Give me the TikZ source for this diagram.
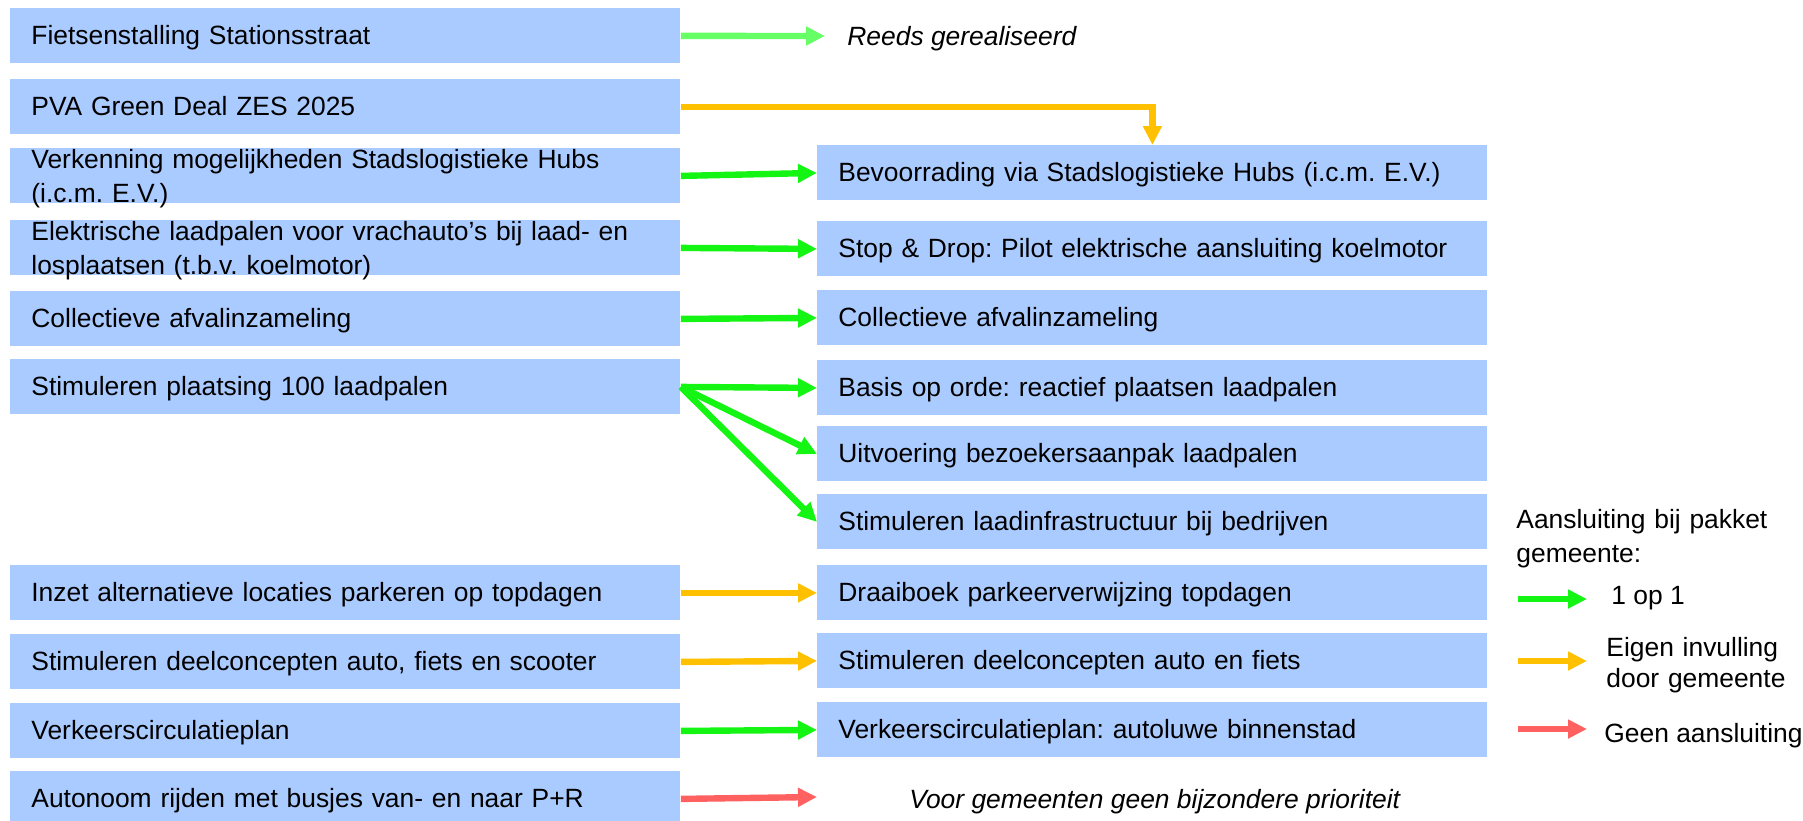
\documentclass[tikz,border=0pt]{standalone}
\usepackage{fontspec}
\setmainfont{Liberation Sans}
\usetikzlibrary{arrows.meta}
\frenchspacing

\definecolor{boxblue}{RGB}{170,203,255}
\definecolor{onegreen}{RGB}{20,245,20}
\definecolor{donegreen}{RGB}{102,255,102}
\definecolor{owngold}{RGB}{255,192,0}
\definecolor{nored}{RGB}{255,96,96}

\begin{document}
\begin{tikzpicture}[x=0.5pt, y=-0.5pt,
  every node/.style={font=\fontsize{13.2}{17}\selectfont},
  box/.style={fill=boxblue, anchor=north west, minimum width=335pt, minimum height=27.5pt,
    inner xsep=10.5pt, inner ysep=0pt, text width=314pt, align=left, text height=18pt, text depth=9.5pt},
  twoline/.style={text height=10pt, text depth=17.5pt},
  link/.style={line width=3.2pt, -{Triangle[length=9.5pt,width=9pt]}},
  note/.style={anchor=base west, inner sep=0pt, font=\fontsize{13.2}{17}\selectfont\itshape},
  legtext/.style={anchor=base west, inner sep=0pt, align=left}]
  \useasboundingbox (0,0) rectangle (1803,820);

  \node[box] (fiets) at (10,8) {Fietsenstalling Stationsstraat};
  \node[box] (pva) at (10,79) {PVA Green Deal ZES 2025};
  \node[box, twoline] (verk) at (10,148) {Verkenning mogelijkheden Stadslogistieke Hubs\\(i.c.m. E.V.)};
  \node[box, twoline] (elek) at (10,220) {Elektrische laadpalen voor vrachauto’s bij laad- en\\losplaatsen (t.b.v. koelmotor)};
  \node[box] (afval) at (10,291) {Collectieve afvalinzameling};
  \node[box] (stim) at (10,359) {Stimuleren plaatsing 100 laadpalen};
  \node[box] (inzet) at (10,565) {Inzet alternatieve locaties parkeren op topdagen};
  \node[box] (deel) at (10,634) {Stimuleren deelconcepten auto, fiets en scooter};
  \node[box] (vcp) at (10,703) {Verkeerscirculatieplan};
  \node[box] (auto) at (10,771) {Autonoom rijden met busjes van- en naar P+R};

  \node[box] (bev) at (817,145) {Bevoorrading via Stadslogistieke Hubs (i.c.m. E.V.)};
  \node[box] (stop) at (817,221) {Stop \& Drop: Pilot elektrische aansluiting koelmotor};
  \node[box] (afval2) at (817,290) {Collectieve afvalinzameling};
  \node[box] (basis) at (817,360) {Basis op orde: reactief plaatsen laadpalen};
  \node[box] (bezoek) at (817,426) {Uitvoering bezoekersaanpak laadpalen};
  \node[box] (bedrijf) at (817,494) {Stimuleren laadinfrastructuur bij bedrijven};
  \node[box] (draai) at (817,565) {Draaiboek parkeerverwijzing topdagen};
  \node[box] (deel2) at (817,633) {Stimuleren deelconcepten auto en fiets};
  \node[box] (vcp2) at (817,702) {Verkeerscirculatieplan: autoluwe binnenstad};

  \node[note] (reeds) at (847,45) {Reeds gerealiseerd};
  \node[note] (geenprio) at (909,808) {Voor gemeenten geen bijzondere prioriteit};
  \coordinate (reedsend) at (825,36);
  \coordinate (autoend) at (817,797);

  \draw[link, donegreen] (fiets.east) -- (reedsend);
  \draw[link, owngold] (pva.east) -| (bev.north);
  \draw[link, onegreen] (verk.east) -- (bev.west);
  \draw[link, onegreen] (elek.east) -- (stop.west);
  \draw[link, onegreen] (afval.east) -- (afval2.west);
  \draw[link, onegreen] (stim.east) -- (basis.west);
  \draw[link, onegreen] (stim.east) -- (bezoek.west);
  \draw[link, onegreen] (stim.east) -- (bedrijf.west);
  \draw[link, owngold] (inzet.east) -- (draai.west);
  \draw[link, owngold] (deel.east) -- (deel2.west);
  \draw[link, onegreen] (vcp.east) -- (vcp2.west);
  \draw[link, nored] (auto.east) -- (autoend);

  \node[legtext, text width=150pt] (legtitle) at (1516,528) {Aansluiting bij pakket\\gemeente:};
  \node[legtext] (legone) at (1611,604) {1 op 1};
  \node[legtext, text width=110pt, font=\fontsize{13.2}{15.5}\selectfont] (legown) at (1606,656) {Eigen invulling\\door gemeente};
  \node[legtext] (legnone) at (1604,742) {Geen aansluiting};
  \coordinate (g1) at (1518,599);
  \coordinate (g2) at (1587,599);
  \coordinate (o1) at (1518,661);
  \coordinate (o2) at (1587,661);
  \coordinate (r1) at (1518,729);
  \coordinate (r2) at (1587,729);
  \draw[link, onegreen] (g1) -- (g2);
  \draw[link, owngold] (o1) -- (o2);
  \draw[link, nored] (r1) -- (r2);
\end{tikzpicture}
\end{document}
